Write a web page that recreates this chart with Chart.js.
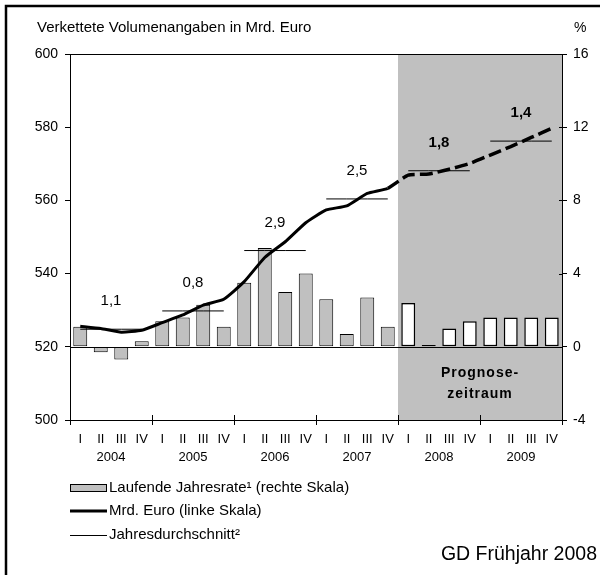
<!DOCTYPE html>
<html><head><meta charset="utf-8">
<script src="https://cdn.jsdelivr.net/npm/chart.js@4"></script>
<style>html,body{margin:0;padding:0;background:#fff}canvas{display:block}</style>
</head><body>
<canvas id="c" width="600" height="575" style="width:600px;height:575px"></canvas>
<script>
// ---- data ----
const years = ['2004', '2005', '2006', '2007', '2008', '2009'];
const quarterNames = ['I', 'II', 'III', 'IV'];
// running annual rate (right scale, %)
const rates = [1.1, -0.3, -0.7, 0.3,  1.4, 1.6, 2.3, 1.1,  3.5, 5.4, 3.0, 4.0,
               2.6, 0.7, 2.7, 1.1,  2.4, 0.1, 1.0, 1.4,  1.6, 1.6, 1.6, 1.6];
// chained volume, bn euro (left scale)
const volume = [525.6, 525.0, 524.0, 524.5,  526.6, 528.7, 531.4, 533.0,
                537.8, 544.4, 548.7, 553.9,  557.4, 558.5, 561.9, 563.3,
                566.9, 567.2, 568.5, 570.1,  572.4, 574.7, 577.2, 579.7];
// annual averages (left scale)
const annualAvg = [524.8, 529.8, 546.3, 560.4, 568.1, 576.2];
const growthLabels = ['1,1', '0,8', '2,9', '2,5', '1,8', '1,4'];
const forecastYears = ['2008', '2009'];
const leftTitle = 'Verkettete Volumenangaben in Mrd. Euro';
const rightTitle = '%';
const legendTexts = ['Laufende Jahresrate\u00B9 (rechte Skala)', 'Mrd. Euro (linke Skala)', 'Jahresdurchschnitt\u00B2'];
const forecastText = ['Prognose-', 'zeitraum'];
const sourceText = 'GD Fr\u00FChjahr 2008';

// ---- derived ----
const labels = years.flatMap(y => quarterNames.map(q => q + ' ' + y));
const forecastStart = years.indexOf(forecastYears[0]) * 4;
const avgSeries = years.flatMap((y, i) => quarterNames.map(() => annualAvg[i]));

const FONT = "'Liberation Sans', Arial, Helvetica, sans-serif";
const GREY = '#c0c0c0';

const deco = {
  id: 'deco',
  beforeDatasetsDraw(chart) {
    const { ctx, chartArea: a, scales: { x, yR } } = chart;
    const bx = i => i <= 0 ? a.left : i >= labels.length ? a.right : (x.getPixelForValue(i - 1) + x.getPixelForValue(i)) / 2;
    ctx.save();
    const sx = Math.round(bx(forecastStart));
    ctx.fillStyle = GREY;
    ctx.fillRect(sx, a.top, a.right - sx, a.bottom - a.top);
    // forecast text
    ctx.fillStyle = '#000';
    ctx.font = 'bold 14px ' + FONT;
    ctx.textAlign = 'center';
    ctx.textBaseline = 'middle';
    const cx = (sx + a.right) / 2;
    const ty = yR.getPixelForValue(-2);
    ctx.save();
    if (ctx.letterSpacing !== undefined) ctx.letterSpacing = '1px';
    ctx.fillText(forecastText[0], cx, ty - 10);
    ctx.fillText(forecastText[1], cx, ty + 11);
    ctx.restore();
    // zero line
    const y0 = Math.round(yR.getPixelForValue(0)) + 0.5;
    ctx.strokeStyle = '#000'; ctx.lineWidth = 1;
    ctx.beginPath(); ctx.moveTo(a.left, y0); ctx.lineTo(a.right, y0); ctx.stroke();
    ctx.restore();
  },
  afterDraw(chart) {
    const { ctx, chartArea: a, scales: { x, yL, yR } } = chart;
    const bx = i => i <= 0 ? a.left : i >= labels.length ? a.right : (x.getPixelForValue(i - 1) + x.getPixelForValue(i)) / 2;
    ctx.save();
    ctx.strokeStyle = '#000';
    ctx.fillStyle = '#000';
    // top border of plot
    ctx.lineWidth = 1;
    ctx.beginPath(); ctx.moveTo(a.left, Math.round(a.top) + 0.5); ctx.lineTo(a.right, Math.round(a.top) + 0.5); ctx.stroke();
    // year ticks crossing x axis
    for (let k = 0; k <= years.length; k++) {
      const px = Math.round(bx(k * 4)) + 0.5;
      ctx.beginPath(); ctx.moveTo(px, a.bottom - 5); ctx.lineTo(px, a.bottom + 5); ctx.stroke();
    }
    // right axis inner tick parts
    yR.ticks.forEach(t => {
      const py = Math.round(yR.getPixelForValue(t.value)) + 0.5;
      ctx.beginPath(); ctx.moveTo(a.right - 3, py); ctx.lineTo(a.right, py); ctx.stroke();
    });
    // year labels
    ctx.font = '13px ' + FONT;
    ctx.textAlign = 'center';
    ctx.textBaseline = 'middle';
    years.forEach((y, k) => {
      const cx = (x.getPixelForValue(k * 4 + 1) + x.getPixelForValue(k * 4 + 2)) / 2;
      ctx.fillText(y, cx, a.bottom + 37);
    });
    // growth labels
    years.forEach((y, k) => {
      const cx = (x.getPixelForValue(k * 4 + 1) + x.getPixelForValue(k * 4 + 2)) / 2;
      const cy = yL.getPixelForValue(annualAvg[k]) - 28;
      ctx.font = (forecastYears.includes(y) ? 'bold ' : '') + '15px ' + FONT;
      ctx.fillText(growthLabels[k], cx, cy);
    });
    // titles
    ctx.font = '15px ' + FONT;
    ctx.textAlign = 'left';
    ctx.fillText(leftTitle, 37, 28);
    ctx.font = '14px ' + FONT;
    ctx.fillText(rightTitle, 574, 28);
    // legend
    const lx = 70, lw = 37, tx = 109;
    ctx.fillStyle = GREY;
    ctx.fillRect(lx, 485, lw, 6);
    ctx.lineWidth = 1;
    ctx.strokeRect(lx + 0.5, 484.5, lw - 1, 7);
    ctx.lineWidth = 3;
    ctx.beginPath(); ctx.moveTo(lx, 511); ctx.lineTo(lx + lw, 511); ctx.stroke();
    ctx.lineWidth = 1;
    ctx.beginPath(); ctx.moveTo(lx, 535.5); ctx.lineTo(lx + lw, 535.5); ctx.stroke();
    ctx.fillStyle = '#000';
    ctx.font = '15px ' + FONT;
    ctx.fillText(legendTexts[0], tx, 488);
    ctx.fillText(legendTexts[1], tx, 511);
    ctx.fillText(legendTexts[2], tx, 535);
    // source
    ctx.font = '19.5px ' + FONT;
    ctx.textAlign = 'right';
    ctx.fillText(sourceText, 597, 555);
    // outer frame
    ctx.lineWidth = 2.5;
    ctx.beginPath(); ctx.moveTo(6, 580); ctx.lineTo(6, 6); ctx.lineTo(600, 6); ctx.stroke();
    ctx.restore();
  }
};

new Chart(document.getElementById('c'), {
  type: 'bar',
  data: {
    labels,
    datasets: [
      {
        type: 'line', label: legendTexts[1], data: volume, yAxisID: 'yL', order: 0,
        borderColor: '#000', borderWidth: 3, pointRadius: 0, tension: 0.15, fill: false,
        borderCapStyle: 'butt', borderJoinStyle: 'round',
        segment: {
          borderDash: c => c.p0DataIndex >= forecastStart - 1 ? [13, 5] : undefined,
          borderWidth: c => c.p0DataIndex >= forecastStart - 1 ? 3.5 : undefined
        }
      },
      {
        type: 'line', label: legendTexts[2], data: avgSeries, yAxisID: 'yL', order: 1,
        borderColor: '#000', borderWidth: 1, pointRadius: 0, tension: 0, fill: false,
        segment: {
          borderColor: c => Math.floor(c.p0DataIndex / 4) !== Math.floor(c.p1DataIndex / 4) ? 'rgba(0,0,0,0)' : undefined
        }
      },
      {
        type: 'bar', label: legendTexts[0], data: rates, yAxisID: 'yR', order: 2,
        backgroundColor: rates.map((v, i) => i >= forecastStart ? '#ffffff' : GREY),
        borderColor: '#000', borderWidth: rates.map((v, i) => i >= forecastStart ? 1.5 : 1),
        borderSkipped: false,
        barPercentage: 0.68, categoryPercentage: 1
      }
    ]
  },
  options: {
    responsive: false, animation: false, devicePixelRatio: 1,
    layout: { padding: { top: 54, bottom: 105, left: 0, right: 0 } },
    plugins: { legend: { display: false }, tooltip: { enabled: false }, title: { display: false } },
    scales: {
      x: {
        type: 'category', offset: true,
        grid: { display: false, drawTicks: false },
        border: { display: true, color: '#000', width: 1 },
        ticks: {
          autoSkip: false, maxRotation: 0, color: '#000', padding: 12,
          font: { family: FONT, size: 13 },
          callback: (v, i) => quarterNames[i % 4]
        },
        afterFit(s) { s.height = 50; }
      },
      yL: {
        type: 'linear', position: 'left', min: 500, max: 600,
        ticks: { stepSize: 20, color: '#000', padding: 7, font: { family: FONT, size: 14 } },
        grid: { drawOnChartArea: false, drawTicks: true, tickLength: 5, color: '#000' },
        border: { display: true, color: '#000', width: 1 },
        afterFit(s) { s.width = 70; }
      },
      yR: {
        type: 'linear', position: 'right', min: -4, max: 16,
        ticks: { stepSize: 4, color: '#000', padding: 6, font: { family: FONT, size: 14 } },
        grid: { drawOnChartArea: false, drawTicks: true, tickLength: 5, color: '#000' },
        border: { display: true, color: '#000', width: 1 },
        afterFit(s) { s.width = 38; }
      }
    }
  },
  plugins: [deco]
});
</script>
</body></html>
